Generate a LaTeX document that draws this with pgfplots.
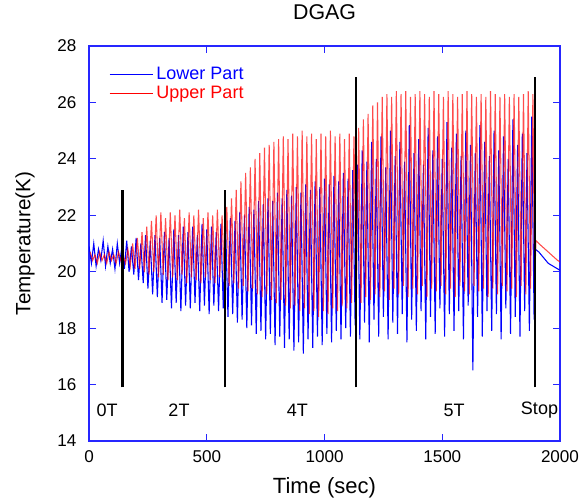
\documentclass[border=0pt]{standalone}
\usepackage{fontspec}
\setmainfont{Liberation Sans}
\usepackage{pgfplots}
\pgfplotsset{compat=1.18}

\begin{document}
\begin{tikzpicture}
\begin{axis}[
    width=353pt, height=296pt, scale only axis,
    xmin=0, xmax=2000, ymin=14, ymax=28,
    xtick={0,500,1000,1500,2000},
    ytick={14,16,18,20,22,24,26,28},
    tick align=inside,
    major tick length=5pt,
    axis line style={blue!85!white, line width=0.9pt},
    every tick/.style={blue!85!white, line width=0.7pt},
    tick label style={font=\fontsize{12.8}{14}\selectfont, inner sep=0.5pt},
    xticklabel style={yshift=-6.8pt},
    yticklabel style={xshift=-8.8pt},
    /pgf/number format/assume math mode=true,
    /pgf/number format/1000 sep={},
    xlabel={Time (sec)}, ylabel={Temperature(K)},
    xlabel style={font=\fontsize{16.5}{18}\selectfont, at={(axis description cs:0.5,-0.119)}, anchor=center},
    ylabel style={font=\fontsize{15.5}{18}\selectfont, at={(axis description cs:-0.136,0.5)}, anchor=center},
    title={DGAG},
    title style={font=\fontsize{16}{18}\selectfont, at={(axis description cs:0.5,1.066)}, anchor=center},
    legend style={draw=none, fill=none, at={(0.034,0.96)}, anchor=north west,
        font=\fontsize{13.5}{15}\selectfont, row sep=-1pt},
    legend cell align=left,
    legend image code/.code={\draw[#1, line width=0.6pt, opacity=1] (0cm,0cm) -- (1.15cm,0cm);},
]

% Lower Part (blue)
\addplot[blue, line width=0.8pt] coordinates {
(0,20.9)(10,20.3)(20,21.0)(30,20.2)(40,20.8)(50,20.4)(60,21.1)(70,20.2)(80,20.9)(90,20.3)(100,20.8)(110,20.1)(120,21.0)(130,20.3)(140,20.9)
(150,20.1)(160,21.1)(170,20.0)(180,20.9)(190,19.9)(200,21.2)(210,19.7)(220,21.0)(230,19.6)(240,21.3)(250,19.4)(260,21.1)(270,19.2)(280,21.3)(290,19.1)
(300,21.2)(310,18.9)(320,21.4)(330,19.0)(340,21.2)(350,18.7)(360,21.5)(370,18.9)(380,21.3)(390,18.6)(400,21.6)(410,18.8)(420,21.4)(430,18.7)(440,21.6)
(450,18.9)(460,21.3)(470,18.6)(480,21.7)(490,18.8)(500,21.5)(510,18.5)(520,21.6)(530,18.8)(540,21.4)(550,18.6)(560,21.7)(570,18.7)(580,21.6)
(590,18.4)(600,21.9)(610,18.5)(620,21.8)(630,18.2)(640,22.1)(650,18.3)(660,22.0)(670,18.0)(680,22.3)(690,18.1)(700,22.2)(710,17.8)(720,22.5)(730,17.9)
(740,22.4)(750,17.6)(760,22.6)(770,17.8)(780,22.5)(790,17.4)(800,22.8)(810,17.7)(820,22.6)(830,17.3)(840,22.9)(850,17.6)(860,22.7)(870,17.2)(880,23.0)
(890,17.5)(900,22.8)(910,17.1)(920,23.1)(930,17.6)(940,22.9)(950,17.3)(960,23.2)(970,17.7)(980,23.0)(990,17.4)(1000,23.3)(1010,17.8)(1020,23.1)(1030,17.5)
(1040,23.4)(1050,17.9)(1060,23.2)(1070,17.6)(1080,23.5)(1090,18.0)(1100,23.3)(1110,17.7)(1120,23.6)(1130,18.1)
(1140,23.8)(1150,17.6)(1160,24.3)(1170,18.2)(1180,23.9)(1190,17.5)(1200,24.6)(1210,18.3)(1220,24.0)(1230,17.7)(1240,24.8)(1250,18.4)(1260,23.7)(1270,17.6)
(1280,25.0)(1290,18.2)(1300,24.1)(1310,17.8)(1320,24.6)(1330,18.5)(1340,23.9)(1350,17.5)(1360,25.2)(1370,18.3)(1380,24.2)(1390,17.9)(1400,24.7)(1410,18.6)
(1420,23.8)(1430,17.6)(1440,25.1)(1450,18.4)(1460,24.3)(1470,17.8)(1480,24.8)(1490,18.7)(1500,24.0)(1510,17.7)(1520,25.3)(1530,18.5)(1540,24.4)(1550,17.9)
(1560,24.9)(1570,18.6)(1580,24.1)(1590,17.6)(1600,25.0)(1610,18.8)(1620,24.5)(1630,16.5)(1640,24.2)(1650,18.4)(1660,25.2)(1670,17.7)(1680,24.6)(1690,18.6)
(1700,24.1)(1710,17.9)(1720,25.0)(1730,18.5)(1740,24.3)(1750,17.6)(1760,24.8)(1770,18.7)(1780,24.0)(1790,17.8)(1800,25.4)(1810,18.4)(1820,24.5)(1830,17.7)
(1840,24.9)(1850,18.6)(1860,24.2)(1870,17.9)(1880,25.5)(1890,18.3)
(1895,20.8)(1910,20.7)(1930,20.5)(1950,20.3)(1970,20.2)(1990,20.1)(2000,20.05)
};
\addlegendentry{\textcolor{blue}{Lower Part}}

% Upper Part (red)
\addplot[red, line width=0.8pt, opacity=0.7] coordinates {
(5,20.7)(15,20.4)(25,20.6)(35,20.3)(45,20.7)(55,20.4)(65,20.6)(75,20.3)(85,20.7)(95,20.4)(105,20.6)(115,20.3)(125,20.7)(135,20.4)(145,20.6)
(155,20.3)(165,20.8)(175,20.2)(185,21.0)(195,20.1)(205,21.2)(215,20.1)(225,21.4)(235,20.0)(245,21.6)(255,19.9)(265,21.8)(275,20.0)(285,22.0)(295,19.8)
(305,22.1)(315,19.9)(325,21.9)(335,19.7)(345,22.1)(355,19.8)(365,22.0)(375,19.7)(385,22.2)(395,19.9)(405,21.9)(415,19.6)(425,22.1)(435,19.8)(445,22.0)
(455,19.7)(465,22.2)(475,19.6)(485,21.9)(495,19.8)(505,22.1)(515,19.7)(525,22.0)(535,19.6)(545,22.2)(555,19.8)(565,22.0)(575,19.6)
(585,22.3)(595,19.5)(605,22.6)(615,19.6)(625,22.9)(635,19.4)(645,23.2)(655,19.5)(665,23.5)(675,19.3)(685,23.7)(695,19.4)(705,24.0)(715,19.2)(725,24.2)
(735,19.1)(745,24.4)(755,19.2)(765,24.5)(775,19.0)(785,24.6)(795,18.9)(805,24.7)(815,19.0)(825,24.8)(835,18.8)(845,24.7)(855,18.7)(865,24.9)(875,18.8)
(885,24.8)(895,18.6)(905,25.0)(915,18.7)(925,24.8)(935,18.5)(945,24.9)(955,18.6)(965,24.7)(975,18.4)(985,24.9)(995,18.6)(1005,24.8)(1015,18.5)(1025,25.0)
(1035,18.7)(1045,24.8)(1055,18.6)(1065,24.9)(1075,18.8)(1085,24.7)(1095,18.7)(1105,24.9)(1115,18.9)(1125,24.8)
(1135,19.0)(1145,25.1)(1155,18.9)(1165,25.4)(1175,19.1)(1185,25.6)(1195,19.0)(1205,25.9)(1215,19.2)(1225,26.0)(1235,19.1)(1245,26.2)(1255,19.3)(1265,26.3)
(1275,19.0)(1285,26.2)(1295,19.4)(1305,26.4)(1315,19.2)(1325,26.3)(1335,19.5)(1345,26.4)(1355,19.1)(1365,26.2)(1375,19.4)(1385,26.3)(1395,19.2)(1405,26.4)
(1415,19.5)(1425,26.3)(1435,19.1)(1445,26.2)(1455,19.4)(1465,26.4)(1475,19.3)(1485,26.3)(1495,19.5)(1505,26.2)(1515,19.2)(1525,26.4)(1535,19.4)(1545,26.3)
(1555,19.1)(1565,26.2)(1575,19.5)(1585,26.3)(1595,19.3)(1605,26.4)(1615,19.2)(1625,26.3)(1635,19.5)(1645,26.2)(1655,19.3)(1665,26.3)(1675,19.4)(1685,26.2)
(1695,19.1)(1705,26.4)(1715,19.4)(1725,26.3)(1735,19.2)(1745,26.2)(1755,19.5)(1765,26.3)(1775,19.3)(1785,26.2)(1795,19.4)(1805,26.3)(1815,19.1)(1825,26.2)
(1835,19.5)(1845,26.3)(1855,19.2)(1865,26.4)(1875,19.4)(1885,26.3)(1892,19.6)
(1898,21.1)(1910,21.0)(1930,20.85)(1950,20.7)(1970,20.55)(1990,20.4)(2000,20.35)
};
\addlegendentry{\textcolor{red}{Upper Part}}

% field change markers
\addplot[black, line width=2pt, forget plot] coordinates {(143,15.9)(143,22.9)};
\addplot[black, line width=2pt, forget plot] coordinates {(577,15.9)(577,22.9)};
\addplot[black, line width=2pt, forget plot] coordinates {(1134,15.9)(1134,26.9)};
\addplot[black, line width=2pt, forget plot] coordinates {(1894,15.9)(1894,26.9)};

\node[font=\fontsize{13.5}{15}\selectfont] at (axis cs:77,15.1) {0T};
\node[font=\fontsize{13.5}{15}\selectfont] at (axis cs:382,15.1) {2T};
\node[font=\fontsize{13.5}{15}\selectfont] at (axis cs:885,15.1) {4T};
\node[font=\fontsize{13.5}{15}\selectfont] at (axis cs:1550,15.1) {5T};
\node[font=\fontsize{13.5}{15}\selectfont] at (axis cs:1913,15.1) {Stop};
\end{axis}
\path (current axis.south west) ++(-66.75pt,-45pt);
\path (current axis.north east) ++(15.75pt,34.5pt);
\end{tikzpicture}
\end{document}
